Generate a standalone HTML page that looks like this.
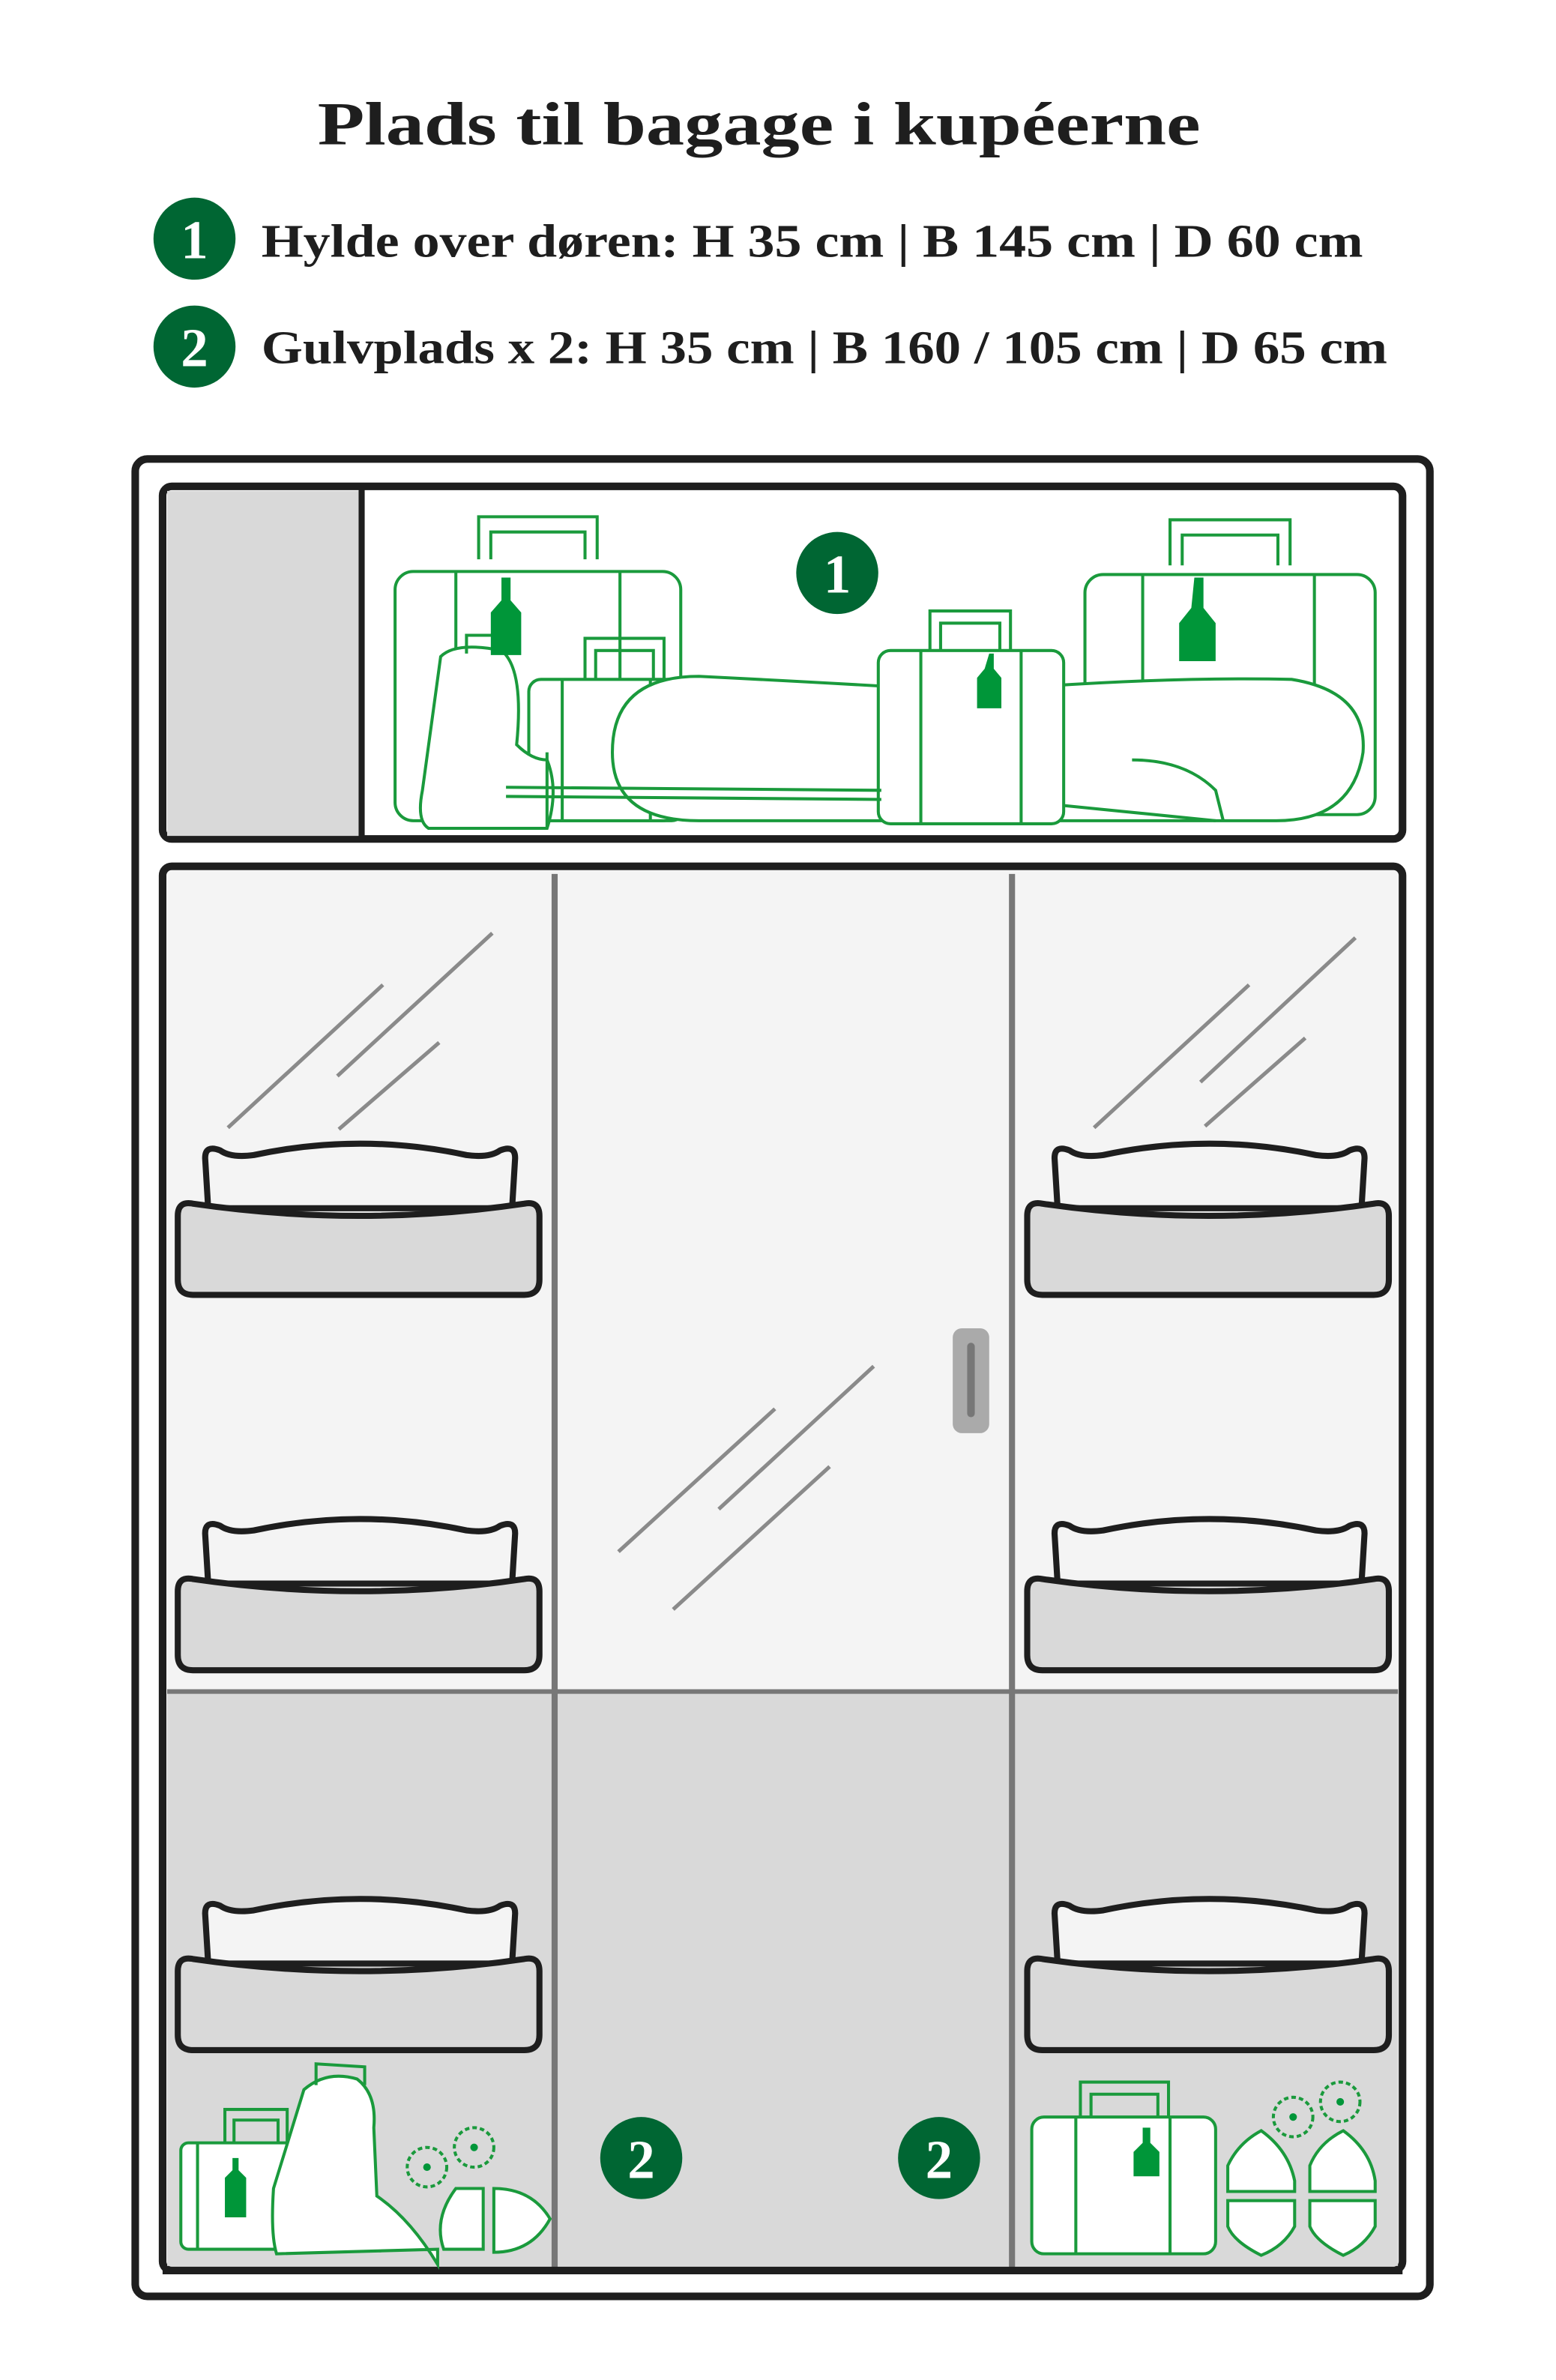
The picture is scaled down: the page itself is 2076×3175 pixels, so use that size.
<!DOCTYPE html>
<html><head><meta charset="utf-8"><style>
html,body{margin:0;padding:0;background:#fff;}
svg{display:block;}
</style></head><body>
<svg width="2076" height="3175" viewBox="0 0 1024 1566" xmlns="http://www.w3.org/2000/svg">
<rect width="1024" height="1566" fill="#fff"/>
<g font-family="'Liberation Serif', serif" font-weight="bold" fill="#1e1e1e">
<text x="209" y="95" font-size="40" textLength="581" lengthAdjust="spacingAndGlyphs">Plads til bagage i kupéerne</text>
<text x="172" y="169" font-size="31" textLength="725" lengthAdjust="spacingAndGlyphs">Hylde over døren: H 35 cm | B 145 cm | D 60 cm</text>
<text x="172" y="239" font-size="31" textLength="741" lengthAdjust="spacingAndGlyphs">Gulvplads x 2: H 35 cm | B 160 / 105 cm | D 65 cm</text>
</g>
<g font-family="'Liberation Serif', serif" font-weight="bold" fill="#fff" text-anchor="middle" font-size="36">
<circle cx="128" cy="157" r="27" fill="#006633"/><text x="128" y="170">1</text>
<circle cx="128" cy="228" r="27" fill="#006633"/><text x="128" y="241">2</text>
</g>
<!-- frame -->
<rect x="89" y="302" width="852" height="1209" rx="8" fill="#fff" stroke="#1e1e1e" stroke-width="5"/>
<!-- shelf -->
<rect x="107" y="320" width="816" height="232" rx="6" fill="#fff" stroke="#1e1e1e" stroke-width="5"/>
<rect x="110" y="323" width="127" height="227" fill="#d9d9d9"/>
<line x1="238" y1="322" x2="238" y2="551" stroke="#1e1e1e" stroke-width="4"/>
<!-- lower -->
<rect x="107" y="570" width="816" height="924" rx="6" fill="#f4f4f4" stroke="#1e1e1e" stroke-width="5"/>
<rect x="110" y="1113" width="810" height="378" fill="#d9d9d9"/>
<line x1="110" y1="1113" x2="920" y2="1113" stroke="#777" stroke-width="3"/>
<line x1="365" y1="575" x2="365" y2="1492" stroke="#777" stroke-width="4"/>
<line x1="666" y1="575" x2="666" y2="1492" stroke="#777" stroke-width="4"/>
<line x1="107" y1="1494" x2="923" y2="1494" stroke="#1e1e1e" stroke-width="5"/>
<!-- glass -->
<g stroke="#8a8a8a" stroke-width="2.5">
<line x1="150" y1="742" x2="252" y2="648"/><line x1="222" y1="708" x2="324" y2="614"/><line x1="223" y1="743" x2="289" y2="686"/>
<line x1="720" y1="742" x2="822" y2="648"/><line x1="790" y1="712" x2="892" y2="617"/><line x1="793" y1="741" x2="859" y2="683"/>
<line x1="407" y1="1021" x2="510" y2="927"/><line x1="473" y1="993" x2="575" y2="899"/><line x1="443" y1="1059" x2="546" y2="965"/>
</g>
<rect x="627" y="874" width="24" height="69" rx="6" fill="#aaa"/>
<line x1="639" y1="886" x2="639" y2="930" stroke="#777" stroke-width="5" stroke-linecap="round"/>
<!-- seats -->
<defs>
<g id="seat" stroke="#1e1e1e" stroke-width="4" stroke-linejoin="round">
<path d="M20,5 L18,-28 Q18,-37 28,-33 Q35,-28 50,-30 Q120,-45 190,-30 Q205,-28 212,-33 Q222,-37 222,-28 L220,5 Z" fill="#f4f4f4"/>
<path d="M0,10 Q0,0 10,2 Q120,18 228,2 Q238,0 238,10 L238,52 Q238,62 228,62 L10,62 Q0,62 0,52 Z" fill="#d9d9d9"/>
</g>
</defs>
<use href="#seat" x="117" y="790"/><use href="#seat" x="676" y="790"/>
<use href="#seat" x="117" y="1037"/><use href="#seat" x="676" y="1037"/>
<use href="#seat" x="117" y="1287"/><use href="#seat" x="676" y="1287"/>
<!-- shelf luggage -->
<g stroke="#1a9a3c" stroke-width="2" fill="#fff">
<path d="M315,368 L315,340 L393,340 L393,368 M323,368 L323,350 L385,350 L385,368" fill="none"/>
<rect x="260" y="376" width="188" height="164" rx="12"/>
<line x1="300" y1="376" x2="300" y2="540"/><line x1="408" y1="376" x2="408" y2="540"/>
<path d="M385,447 L385,420 L437,420 L437,447 M392,447 L392,428 L430,428 L430,447" fill="none"/>
<rect x="348" y="447" width="102" height="93" rx="8"/>
<line x1="370" y1="447" x2="370" y2="540"/><line x1="428" y1="447" x2="428" y2="540"/>
<path d="M770,372 L770,342 L849,342 L849,372 M778,372 L778,352 L841,352 L841,372" fill="none"/>
<rect x="714" y="378" width="191" height="158" rx="12"/>
<line x1="752" y1="378" x2="752" y2="536"/><line x1="865" y1="378" x2="865" y2="536"/>
<path d="M403,495 Q403,445 460,445 Q560,450 640,455 Q760,445 850,447 Q900,455 897,495 Q890,540 840,540 L460,540 Q403,540 403,495 Z"/>
<path d="M612,428 L612,402 L665,402 L665,428 M619,428 L619,410 L658,410 L658,428" fill="none"/>
<rect x="578" y="428" width="122" height="114" rx="8"/>
<line x1="606" y1="428" x2="606" y2="542"/><line x1="672" y1="428" x2="672" y2="542"/>
<path d="M290,432 Q300,422 330,428 Q345,440 340,490 Q350,500 360,500 Q368,520 360,545 L282,545 Q274,540 278,520 Z"/>
<path d="M307,430 L307,418 L330,418 L330,430" fill="none"/>
<path d="M333,518 L580,520 M333,524 L580,526 M700,530 L800,540 M745,500 Q780,500 800,520 L805,540" fill="none"/>
<line x1="360" y1="495" x2="360" y2="545"/>
</g>
<g fill="#009639">
<path d="M330,380 h6 v15 l7,8 v28 h-20 v-28 l7,-8 z"/>
<path d="M786,380 h6 v20 l8,10 v25 h-24 v-25 l8,-10 z"/>
<path d="M651,430 h3 v10 l5,6 v20 h-16 v-20 l5,-6 z"/>
</g>
<circle cx="551" cy="377" r="27" fill="#006633"/>
<text x="551" y="390" font-family="'Liberation Serif', serif" font-weight="bold" font-size="36" fill="#fff" text-anchor="middle">1</text>
<!-- floor luggage left -->
<g stroke="#1a9a3c" stroke-width="2" fill="#fff">
<path d="M148,1410 L148,1388 L189,1388 L189,1410 M154,1410 L154,1395 L183,1395 L183,1410" fill="none"/>
<rect x="119" y="1410" width="74" height="70" rx="5"/>
<line x1="130" y1="1410" x2="130" y2="1480"/>
<path d="M200,1375 Q215,1362 235,1368 Q248,1378 246,1400 L248,1445 Q270,1460 288,1490 L288,1480 L182,1483 Q178,1470 180,1440 Z"/>
<path d="M208,1372 L208,1358 L240,1360 L240,1372" fill="none"/>
<path d="M292,1480 Q285,1460 300,1440 L318,1440 L318,1480 Z"/>
<path d="M325,1440 Q350,1440 362,1460 Q350,1482 325,1482 Z"/>
<circle cx="281" cy="1426" r="13" fill="none" stroke-dasharray="3 2"/>
<circle cx="312" cy="1413" r="13" fill="none" stroke-dasharray="3 2"/>
</g>
<g fill="#009639"><path d="M153,1420 h4 v8 l5,5 v26 h-14 v-26 l5,-5 z"/><circle cx="281" cy="1426" r="2.5"/><circle cx="312" cy="1413" r="2.5"/></g>
<!-- floor luggage right -->
<g stroke="#1a9a3c" stroke-width="2" fill="#fff">
<path d="M711,1393 L711,1370 L769,1370 L769,1393 M718,1393 L718,1378 L762,1378 L762,1393" fill="none"/>
<rect x="679" y="1393" width="121" height="90" rx="8"/>
<line x1="708" y1="1393" x2="708" y2="1483"/><line x1="770" y1="1393" x2="770" y2="1483"/>
<path d="M808,1442 L808,1425 Q815,1410 830,1402 Q848,1415 852,1435 L852,1442 Z"/>
<path d="M862,1442 L862,1425 Q868,1410 884,1402 Q902,1415 905,1435 L905,1442 Z"/>
<path d="M808,1448 L852,1448 L852,1465 Q845,1478 830,1484 Q812,1475 808,1465 Z"/>
<path d="M862,1448 L905,1448 L905,1465 Q898,1478 884,1484 Q866,1475 862,1465 Z"/>
<circle cx="851" cy="1393" r="13" fill="none" stroke-dasharray="3 2"/>
<circle cx="882" cy="1383" r="13" fill="none" stroke-dasharray="3 2"/>
</g>
<g fill="#009639"><path d="M752,1400 h5 v10 l6,6 v16 h-17 v-16 l6,-6 z"/><circle cx="851" cy="1393" r="2.5"/><circle cx="882" cy="1383" r="2.5"/></g>
<g font-family="'Liberation Serif', serif" font-weight="bold" fill="#fff" text-anchor="middle" font-size="36">
<circle cx="422" cy="1420" r="27" fill="#006633"/><text x="422" y="1433">2</text>
<circle cx="618" cy="1420" r="27" fill="#006633"/><text x="618" y="1433">2</text>
</g>
</svg>
</body></html>
